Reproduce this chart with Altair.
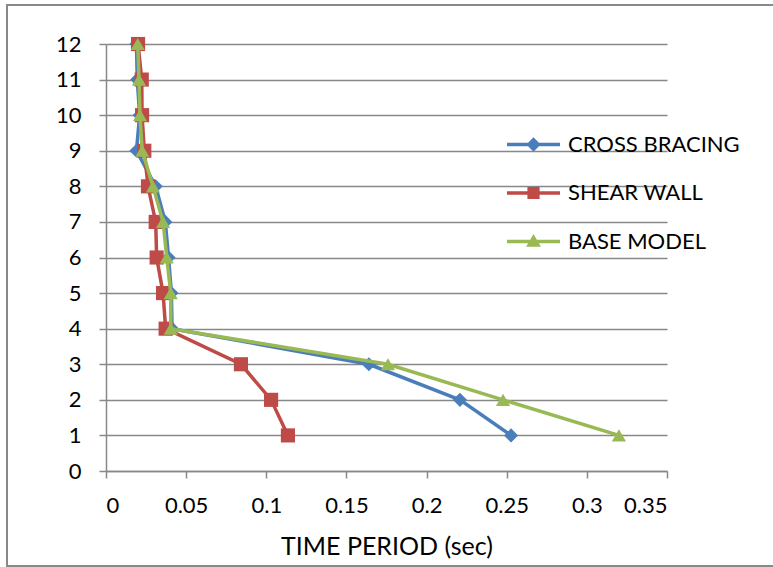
import altair as alt
import pandas as pd

floors = [1, 2, 3, 4, 5, 6, 7, 8, 9, 10, 11, 12]
cross_bracing = [0.2527, 0.2208, 0.164, 0.0412, 0.0408, 0.039, 0.037, 0.031, 0.019, 0.021, 0.0195, 0.019]
shear_wall = [0.1135, 0.103, 0.0842, 0.0372, 0.0356, 0.0316, 0.031, 0.0262, 0.0239, 0.0225, 0.0223, 0.020]
base_model = [0.320, 0.2477, 0.1759, 0.0404, 0.0404, 0.0379, 0.0356, 0.0293, 0.0226, 0.0212, 0.0206, 0.0198]

series_names = ["CROSS BRACING", "SHEAR WALL", "BASE MODEL"]
series_colors = ["#4A7EBB", "#BE4B48", "#98B954"]
series_shapes = ["diamond", "square", "triangle-up"]
x_ticks = [0, 0.05, 0.1, 0.15, 0.2, 0.25, 0.3, 0.35]
y_ticks = list(range(0, 13))

rows = []
for name, vals in zip(series_names, [cross_bracing, shear_wall, base_model]):
    for f, v in zip(floors, vals):
        rows.append({"series": name, "floor": f, "period": v})
df = pd.DataFrame(rows)

W, H = 561, 427
FONT = "Lato"
GRID = "#888888"

# legend glyphs: line segment + marker (unit square -1..1)
legend_paths = [
    "M-1,-0.066H1V0.066H-1Z M0,-0.27L0.27,0L0,0.27L-0.27,0Z",
    "M-1,-0.066H1V0.066H-1Z M-0.23,-0.23H0.23V0.23H-0.23Z",
    "M-1,-0.066H1V0.066H-1Z M0,-0.28L0.28,0.2L-0.28,0.2Z",
]

x_enc = alt.X(
    "period:Q",
    scale=alt.Scale(domain=[0, 0.35], nice=False),
    axis=alt.Axis(
        values=x_ticks, format="~g", grid=False, title="TIME PERIOD (sec)",
        titleFontSize=25, titleFont=FONT, titleFontWeight="normal", titleColor="black",
        titlePadding=18,
        labelFontSize=22, labelFont=FONT, labelColor="black", labelPadding=17,
        tickSize=7, tickColor=GRID, domainColor=GRID, domainWidth=1.5, tickWidth=1.5,
    ),
)
y_enc = alt.Y(
    "floor:Q",
    scale=alt.Scale(domain=[0, 12], nice=False),
    axis=alt.Axis(
        values=y_ticks, title=None, grid=True, gridColor=GRID, gridWidth=1.5,
        labelFontSize=22, labelFont=FONT, labelColor="black", labelPadding=18,
        tickSize=7, tickColor=GRID, domainColor=GRID, domainWidth=1.5, tickWidth=1.5,
    ),
)

color_plain = alt.Color("series:N", scale=alt.Scale(domain=series_names, range=series_colors), legend=None)
shape_plain = alt.Shape("series:N", scale=alt.Scale(domain=series_names, range=series_shapes), legend=None)

base = alt.Chart(df)
layers = []
for name in series_names:
    sub = base.transform_filter(alt.datum.series == name)
    layers.append(
        sub.mark_line(strokeWidth=3.5).encode(
            x=x_enc, y=y_enc, color=color_plain, order=alt.Order("floor:Q")
        )
    )
    layers.append(
        sub.mark_point(filled=True, size=200, opacity=1).encode(
            x=x_enc, y=y_enc, color=color_plain, shape=shape_plain
        )
    )

legend = alt.Legend(
    title=None,
    orient="none",
    legendX=401,
    legendY=74,
    padding=0,
    symbolSize=2809,
    symbolStrokeWidth=0,
    symbolOpacity=1,
    labelFontSize=22,
    labelFont=FONT,
    labelColor="black",
    labelOffset=8,
    labelLimit=400,
    rowPadding=10.5,
)
legend_layer = base.transform_filter("false").mark_point(filled=True, opacity=1).encode(
    x=x_enc, y=y_enc,
    color=alt.Color("series:N", scale=alt.Scale(domain=series_names, range=series_colors), legend=legend),
    shape=alt.Shape("series:N", scale=alt.Scale(domain=series_names, range=legend_paths), legend=legend),
)

border = alt.Chart(pd.DataFrame({"a": [0]})).mark_rect(
    fill=None, stroke="#898989", strokeWidth=2
).encode(
    x=alt.value(-99), x2=alt.value(W + 115), y=alt.value(-39), y2=alt.value(H + 95)
)

chart = alt.layer(*layers, legend_layer, border).resolve_scale(
    color="independent", shape="independent"
).properties(
    width=W, height=H,
    autosize=alt.AutoSizeParams(type="none"),
    padding={"left": 106, "top": 44, "right": 106, "bottom": 96},
    background="white",
).configure_view(stroke=None)

chart.save("out.html", embed_options={"renderer": "svg", "actions": False})
